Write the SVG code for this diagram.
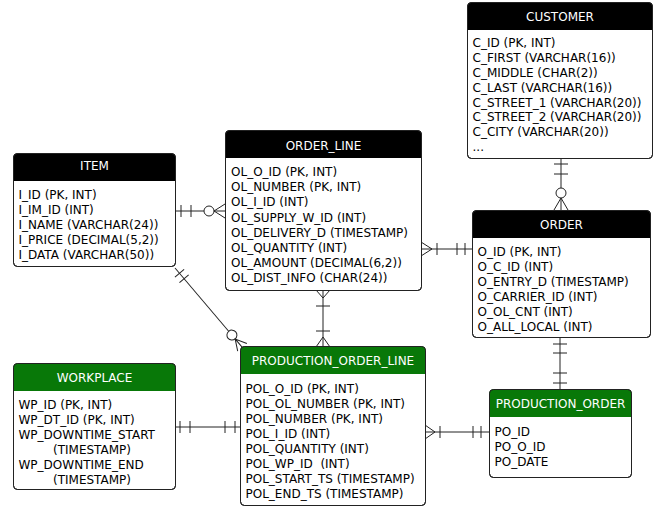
<svg xmlns="http://www.w3.org/2000/svg" width="660" height="508" viewBox="0 0 660 508">
<style>
text{font-family:"DejaVu Sans","Verdana",sans-serif;font-size:12px;fill:#000}
.t{fill:#fff;text-anchor:middle}
.box{fill:#fff;stroke:#222;stroke-width:1}
.frame{fill:none;stroke:#222;stroke-width:1}
.hb{fill:#000}
.hg{fill:#087808}
.c line,.c path,.c circle{stroke:#222;stroke-width:1;fill:none}
.c circle{fill:#fff}
</style>
<rect width="660" height="508" fill="#fff"/>
<g class="c" id="connectors">
  <!-- CUSTOMER - ORDER -->
  <line x1="561" y1="159" x2="561" y2="188"/>
  <line x1="554" y1="164" x2="568" y2="164"/>
  <line x1="554" y1="174" x2="568" y2="174"/>
  <circle cx="561" cy="193" r="5"/>
  <path d="M554 210 L561 198 L568 210 M561 198 V210"/>
  <!-- ITEM - ORDER_LINE -->
  <line x1="175" y1="211" x2="204" y2="211"/>
  <line x1="181" y1="205" x2="181" y2="217"/>
  <line x1="191" y1="205" x2="191" y2="217"/>
  <circle cx="209" cy="211" r="5"/>
  <path d="M225 204 L214 211 L225 218 M214 211 H225"/>
  <!-- ORDER_LINE - ORDER -->
  <line x1="421" y1="249" x2="472" y2="249"/>
  <path d="M421 242 L432 249 L421 256"/>
  <line x1="437" y1="243" x2="437" y2="255"/>
  <line x1="457" y1="243" x2="457" y2="255"/>
  <line x1="465" y1="243" x2="465" y2="255"/>
  <!-- ORDER_LINE - PRODUCTION_ORDER_LINE -->
  <line x1="323" y1="290" x2="323" y2="347"/>
  <path d="M316 290 L323 298 L330 290"/>
  <line x1="316" y1="306" x2="330" y2="306"/>
  <line x1="316" y1="331" x2="330" y2="331"/>
  <path d="M316 347 L323 337 L330 347"/>
  <!-- ITEM - PRODUCTION_ORDER_LINE -->
  <g transform="translate(175,268) rotate(49.7)">
    <line x1="0" y1="0" x2="83" y2="0"/>
    <line x1="7" y1="-6" x2="7" y2="6"/>
    <line x1="14" y1="-6" x2="14" y2="6"/>
    <circle cx="88" cy="0" r="5"/>
    <path d="M104 -6 L93 0 L104 6 M93 0 H104"/>
  </g>
  <!-- WORKPLACE - PRODUCTION_ORDER_LINE -->
  <line x1="176" y1="427" x2="240" y2="427"/>
  <line x1="180" y1="421" x2="180" y2="433"/>
  <line x1="190" y1="421" x2="190" y2="433"/>
  <line x1="225" y1="421" x2="225" y2="433"/>
  <line x1="235" y1="421" x2="235" y2="433"/>
  <!-- PRODUCTION_ORDER_LINE - PRODUCTION_ORDER -->
  <line x1="425" y1="432" x2="489" y2="432"/>
  <path d="M425 425 L435 432 L425 439"/>
  <line x1="440" y1="426" x2="440" y2="438"/>
  <line x1="473" y1="426" x2="473" y2="438"/>
  <line x1="481" y1="426" x2="481" y2="438"/>
  <!-- ORDER - PRODUCTION_ORDER -->
  <line x1="560" y1="337" x2="560" y2="390"/>
  <line x1="553" y1="344" x2="567" y2="344"/>
  <line x1="553" y1="353" x2="567" y2="353"/>
  <line x1="553" y1="373" x2="567" y2="373"/>
  <line x1="553" y1="383" x2="567" y2="383"/>
</g>

<g id="customer">
  <rect class="box" x="467.5" y="2.5" width="185" height="156" rx="4"/>
  <path class="hb" d="M467.5 30 V6.5 Q467.5 2.5 471.5 2.5 H648.5 Q652.5 2.5 652.5 6.5 V30 Z"/>
  <rect class="frame" x="467.5" y="2.5" width="185" height="156" rx="4"/>
  <text class="t" x="560" y="20.5">CUSTOMER</text>
  <text x="472.5" y="47.4">C_ID (PK, INT)</text>
  <text x="472.5" y="62.2">C_FIRST (VARCHAR(16))</text>
  <text x="472.5" y="77">C_MIDDLE (CHAR(2))</text>
  <text x="472.5" y="91.8">C_LAST (VARCHAR(16))</text>
  <text x="472.5" y="106.6">C_STREET_1 (VARCHAR(20))</text>
  <text x="472.5" y="121.4">C_STREET_2 (VARCHAR(20))</text>
  <text x="472.5" y="136.2">C_CITY (VARCHAR(20))</text>
  <text x="472.5" y="151">...</text>
</g>

<g id="order_line">
  <rect class="box" x="225.5" y="130.5" width="196" height="160" rx="4"/>
  <path class="hb" d="M225.5 158 V134.5 Q225.5 130.5 229.5 130.5 H417.5 Q421.5 130.5 421.5 134.5 V158 Z"/>
  <rect class="frame" x="225.5" y="130.5" width="196" height="160" rx="4"/>
  <text class="t" x="323.5" y="150">ORDER_LINE</text>
  <text x="231" y="176">OL_O_ID (PK, INT)</text>
  <text x="231" y="191.2">OL_NUMBER (PK, INT)</text>
  <text x="231" y="206.4">OL_I_ID (INT)</text>
  <text x="231" y="221.6">OL_SUPPLY_W_ID (INT)</text>
  <text x="231" y="236.8">OL_DELIVERY_D (TIMESTAMP)</text>
  <text x="231" y="252">OL_QUANTITY (INT)</text>
  <text x="231" y="267.2">OL_AMOUNT (DECIMAL(6,2))</text>
  <text x="231" y="282.4">OL_DIST_INFO (CHAR(24))</text>
</g>

<g id="item">
  <rect class="box" x="13.5" y="153.5" width="162" height="113" rx="4"/>
  <path class="hb" d="M13.5 181 V157.5 Q13.5 153.5 17.5 153.5 H171.5 Q175.5 153.5 175.5 157.5 V181 Z"/>
  <rect class="frame" x="13.5" y="153.5" width="162" height="113" rx="4"/>
  <text class="t" x="94.5" y="170">ITEM</text>
  <text x="18.5" y="199.4">I_ID (PK, INT)</text>
  <text x="18.5" y="214.4">I_IM_ID (INT)</text>
  <text x="18.5" y="229.4">I_NAME (VARCHAR(24))</text>
  <text x="18.5" y="244.4">I_PRICE (DECIMAL(5,2))</text>
  <text x="18.5" y="259.4">I_DATA (VARCHAR(50))</text>
</g>

<g id="order">
  <rect class="box" x="472.5" y="210.5" width="178" height="127" rx="4"/>
  <path class="hb" d="M472.5 238 V214.5 Q472.5 210.5 476.5 210.5 H646.5 Q650.5 210.5 650.5 214.5 V238 Z"/>
  <rect class="frame" x="472.5" y="210.5" width="178" height="127" rx="4"/>
  <text class="t" x="561.5" y="228.5">ORDER</text>
  <text x="477.5" y="256.4">O_ID (PK, INT)</text>
  <text x="477.5" y="271.4">O_C_ID (INT)</text>
  <text x="477.5" y="286.4">O_ENTRY_D (TIMESTAMP)</text>
  <text x="477.5" y="301.4">O_CARRIER_ID (INT)</text>
  <text x="477.5" y="316.4">O_OL_CNT (INT)</text>
  <text x="477.5" y="331.4">O_ALL_LOCAL (INT)</text>
</g>

<g id="production_order_line">
  <rect class="box" x="240.5" y="346.5" width="185" height="159" rx="4"/>
  <path class="hg" d="M240.5 374 V350.5 Q240.5 346.5 244.5 346.5 H421.5 Q425.5 346.5 425.5 350.5 V374 Z"/>
  <rect class="frame" x="240.5" y="346.5" width="185" height="159" rx="4"/>
  <text class="t" x="333" y="365">PRODUCTION_ORDER_LINE</text>
  <text x="245.5" y="392.7">POL_O_ID (PK, INT)</text>
  <text x="245.5" y="407.7">POL_OL_NUMBER (PK, INT)</text>
  <text x="245.5" y="422.7">POL_NUMBER (PK, INT)</text>
  <text x="245.5" y="437.7">POL_I_ID (INT)</text>
  <text x="245.5" y="452.7">POL_QUANTITY (INT)</text>
  <text x="245.5" y="467.7" xml:space="preserve">POL_WP_ID  (INT)</text>
  <text x="245.5" y="482.7">POL_START_TS (TIMESTAMP)</text>
  <text x="245.5" y="497.7">POL_END_TS (TIMESTAMP)</text>
</g>

<g id="workplace">
  <rect class="box" x="13.5" y="363.5" width="162" height="126" rx="4"/>
  <path class="hg" d="M13.5 391 V367.5 Q13.5 363.5 17.5 363.5 H171.5 Q175.5 363.5 175.5 367.5 V391 Z"/>
  <rect class="frame" x="13.5" y="363.5" width="162" height="126" rx="4"/>
  <text class="t" x="94.5" y="381.7">WORKPLACE</text>
  <text x="18.5" y="409.4">WP_ID (PK, INT)</text>
  <text x="18.5" y="424.4">WP_DT_ID (PK, INT)</text>
  <text x="18.5" y="439.4">WP_DOWNTIME_START</text>
  <text x="53" y="454.4">(TIMESTAMP)</text>
  <text x="18.5" y="469.4">WP_DOWNTIME_END</text>
  <text x="53" y="484.4">(TIMESTAMP)</text>
</g>

<g id="production_order">
  <rect class="box" x="489.5" y="389.5" width="142" height="88" rx="4"/>
  <path class="hg" d="M489.5 417 V393.5 Q489.5 389.5 493.5 389.5 H627.5 Q631.5 389.5 631.5 393.5 V417 Z"/>
  <rect class="frame" x="489.5" y="389.5" width="142" height="88" rx="4"/>
  <text class="t" x="560.5" y="408.4">PRODUCTION_ORDER</text>
  <text x="494.5" y="436">PO_ID</text>
  <text x="494.5" y="451">PO_O_ID</text>
  <text x="494.5" y="466">PO_DATE</text>
</g>
</svg>
